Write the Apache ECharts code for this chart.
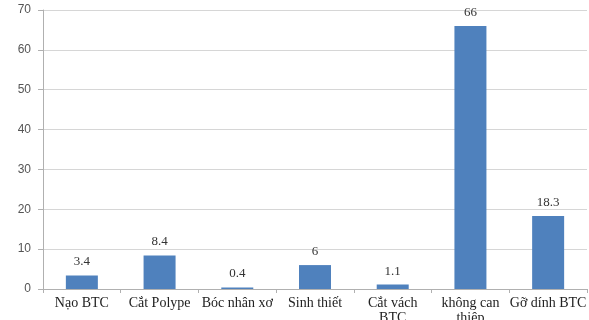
<!DOCTYPE html>
<html>
<head>
<meta charset="utf-8">
<script src="https://cdn.jsdelivr.net/npm/echarts@6/dist/echarts.min.js"></script>
<style>
  html, body { margin: 0; padding: 0; background: #fff; }
  #chart { width: 589px; height: 320px; }
</style>
</head>
<body>
<div id="chart"></div>
<script>
// Procedure categories and their percentages
const categories = ['Nạo BTC', 'Cắt Polype', 'Bóc nhân xơ', 'Sinh thiết', 'Cắt vách\nBTC', 'không can\nthiệp', 'Gỡ dính BTC'];
const values = [3.4, 8.4, 0.4, 6, 1.1, 66, 18.3];
const yTicks = { min: 0, max: 70, interval: 10 };

const serif = '"Liberation Serif", "DejaVu Serif", serif';
const sans = '"Liberation Sans", "DejaVu Sans", sans-serif';

const chart = echarts.init(document.getElementById('chart'), null, { renderer: 'canvas' });
chart.setOption({
  animation: false,
  grid: { left: 43, right: 2, top: 10, bottom: 31, containLabel: false, outerBoundsMode: 'none' },
  xAxis: {
    type: 'category',
    data: categories,
    axisLine: { lineStyle: { color: '#b0b0b0', width: 1 } },
    axisTick: { show: true, length: 4, lineStyle: { color: '#b0b0b0' } },
    axisLabel: {
      interval: 0,
      margin: 7,
      color: '#222',
      fontFamily: serif,
      fontSize: 14,
      lineHeight: 15
    }
  },
  yAxis: {
    type: 'value',
    min: yTicks.min,
    max: yTicks.max,
    interval: yTicks.interval,
    axisLine: { show: true, lineStyle: { color: '#b0b0b0', width: 1 } },
    axisTick: { show: true, length: 5, lineStyle: { color: '#b0b0b0' } },
    splitLine: { lineStyle: { color: '#d6d6d6', width: 1 } },
    axisLabel: {
      margin: 12,
      color: '#555',
      fontFamily: sans,
      fontSize: 12
    }
  },
  series: [{
    type: 'bar',
    data: values,
    barWidth: 32,
    itemStyle: { color: '#4f81bd' },
    label: {
      show: true,
      position: 'top',
      distance: 7,
      color: '#333',
      fontFamily: serif,
      fontSize: 13
    }
  }]
});
</script>
</body>
</html>
